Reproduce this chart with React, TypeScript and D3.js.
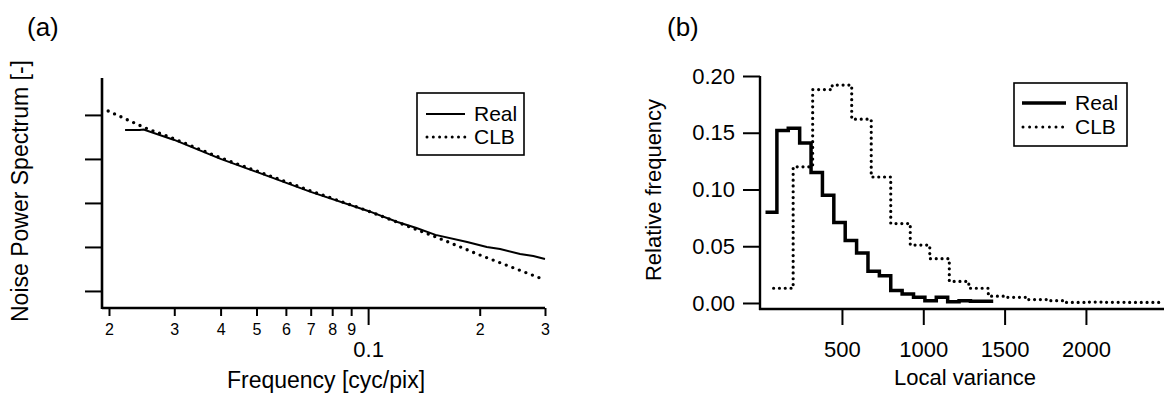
import React, { useRef, useEffect } from 'react';
import * as d3 from 'd3';

// (a) noise power spectrum, log-log
const realFreq = [0.0221, 0.0242, 0.0248, 0.03, 0.04, 0.05, 0.07, 0.1, 0.12, 0.135, 0.152, 0.185, 0.209, 0.227, 0.257, 0.279, 0.3];
const realNps = [0.0456, 0.0456, 0.0468, 0.027, 0.0100, 0.00507, 0.00178, 0.000658, 0.00037, 0.00027, 0.000188, 0.00013, 0.0001, 9.0e-5, 6.9e-5, 6.2e-5, 5.3e-5];
const clbFreq = [0.0199, 0.025, 0.03, 0.04, 0.05, 0.07, 0.1, 0.15, 0.2, 0.3];
const clbNps = [0.123, 0.051, 0.0285, 0.01055, 0.00533, 0.001875, 0.000658, 0.000178, 6.58e-5, 1.78e-5];
const freqMinorTicks = [0.02, 0.03, 0.04, 0.05, 0.06, 0.07, 0.08, 0.09, 0.2, 0.3];
const freqMinorLabels = ['2', '3', '4', '5', '6', '7', '8', '9', '2', '3'];
const freqMajorTicks = [0.1];
const npsTicks = [1e-5, 1e-4, 1e-3, 1e-2, 1e-1];

// (b) local variance histograms (bin edges + relative frequency)
const realEdges = [30, 100, 170, 240, 310, 380, 450, 520, 590, 660, 730, 800, 870, 940, 1010, 1080, 1150, 1220, 1290, 1360, 1430];
const realHist = [0.080, 0.152, 0.154, 0.141, 0.115, 0.095, 0.071, 0.055, 0.044, 0.028, 0.024, 0.011, 0.008, 0.005, 0.002, 0.005, 0.001, 0.002, 0.0015, 0.0015];
const clbEdges = [80, 200, 320, 440, 560, 680, 800, 920, 1040, 1160, 1280, 1400, 1520, 1640, 1760, 1880, 2000, 2120, 2240, 2360, 2480];
const clbHist = [0.013, 0.120, 0.188, 0.192, 0.162, 0.111, 0.070, 0.051, 0.039, 0.019, 0.013, 0.006, 0.005, 0.003, 0.002, 0.0005, 0.0008, 0.0006, 0.0005, 0.0005];
const varTicks = [500, 1000, 1500, 2000];
const relTicks = [0, 0.05, 0.1, 0.15, 0.2];

const FONT = '"Liberation Sans", Arial, Helvetica, sans-serif';

export default function App() {
  const ref = useRef<SVGSVGElement>(null);

  useEffect(() => {
    document.body.style.margin = '0';
    const svg = d3.select(ref.current);
    svg.selectAll('*').remove();
    svg.style('font-family', FONT);

    // ---------- panel (a) ----------
    const xA = d3.scaleLog().domain([0.01915, 0.3]).range([102, 545]);
    const yA = d3.scaleLog().domain([4.1e-6, 0.69]).range([308, 78]);

    svg.append('text').attr('x', 27).attr('y', 36).attr('font-size', 26).text('(a)');

    const minorAx = svg.append('g').attr('transform', 'translate(0,308)')
      .call(d3.axisBottom(xA).tickValues(freqMinorTicks).tickSize(8).tickPadding(8)
        .tickFormat((_, i) => freqMinorLabels[i]));
    minorAx.select('.domain').remove();
    minorAx.selectAll('line').attr('stroke-width', 2);
    minorAx.selectAll('text').attr('font-size', 16).attr('font-family', FONT);

    const majorAx = svg.append('g').attr('transform', 'translate(0,308)')
      .call(d3.axisBottom(xA).tickValues(freqMajorTicks).tickSize(17).tickPadding(16).tickFormat(() => '0.1'));
    majorAx.select('.domain').remove();
    majorAx.selectAll('line').attr('stroke-width', 2);
    majorAx.selectAll('text').attr('font-size', 22).attr('font-family', FONT);

    const yAx = svg.append('g').attr('transform', 'translate(102,0)')
      .call(d3.axisLeft(yA).tickValues(npsTicks).tickSize(17).tickFormat(() => ''));
    yAx.select('.domain').remove();
    yAx.selectAll('line').attr('stroke-width', 2);

    svg.append('line').attr('x1', 102).attr('x2', xA(0.3)).attr('y1', 308).attr('y2', 308)
      .attr('stroke', '#000').attr('stroke-width', 2.6);
    svg.append('line').attr('x1', 102).attr('x2', 102).attr('y1', 78).attr('y2', 309)
      .attr('stroke', '#000').attr('stroke-width', 2.6);

    svg.append('text').attr('x', 326).attr('y', 388).attr('text-anchor', 'middle')
      .attr('font-size', 23).text('Frequency [cyc/pix]');
    svg.append('text').attr('transform', 'translate(20,191) rotate(-90)').attr('dy', '0.35em')
      .attr('text-anchor', 'middle').attr('font-size', 23).text('Noise Power Spectrum [-]');

    const realPts = realFreq.map((f, i) => [xA(f), yA(realNps[i])] as [number, number]);
    const clbPts = clbFreq.map((f, i) => [xA(f), yA(clbNps[i])] as [number, number]);
    svg.append('path').attr('d', d3.line()(clbPts)).attr('fill', 'none').attr('stroke', '#000')
      .attr('stroke-width', 3.4).attr('stroke-linecap', 'round').attr('stroke-dasharray', '0 7');
    svg.append('path').attr('d', d3.line()(realPts)).attr('fill', 'none').attr('stroke', '#000')
      .attr('stroke-width', 2);

    // legend (a)
    const legA = svg.append('g');
    legA.append('rect').attr('x', 417).attr('y', 93).attr('width', 107).attr('height', 62)
      .attr('fill', '#fff').attr('stroke', '#000').attr('stroke-width', 1.6);
    legA.append('line').attr('x1', 426).attr('x2', 465).attr('y1', 114).attr('y2', 114)
      .attr('stroke', '#000').attr('stroke-width', 2);
    legA.append('line').attr('x1', 427).attr('x2', 465).attr('y1', 137).attr('y2', 137)
      .attr('stroke', '#000').attr('stroke-width', 3).attr('stroke-linecap', 'round').attr('stroke-dasharray', '0 6.3');
    legA.append('text').attr('x', 474).attr('y', 114).attr('dy', '0.35em').attr('font-size', 21).text('Real');
    legA.append('text').attr('x', 474).attr('y', 137).attr('dy', '0.35em').attr('font-size', 21).text('CLB');

    // ---------- panel (b) ----------
    const xB = d3.scaleLinear().domain([-10, 2480]).range([759, 1164]);
    const yB = d3.scaleLinear().domain([-0.0053, 0.2]).range([309, 76]);

    svg.append('text').attr('x', 667).attr('y', 36).attr('font-size', 26).text('(b)');

    const xBx = svg.append('g').attr('transform', 'translate(0,309)')
      .call(d3.axisBottom(xB).tickValues(varTicks).tickSize(16).tickPadding(16).tickFormat(d3.format('d')));
    xBx.select('.domain').remove();
    xBx.selectAll('line').attr('stroke-width', 2);
    xBx.selectAll('text').attr('font-size', 22).attr('font-family', FONT);

    const yBx = svg.append('g').attr('transform', 'translate(760,0)')
      .call(d3.axisLeft(yB).tickValues(relTicks).tickSize(17).tickPadding(8).tickFormat(d3.format('.2f')));
    yBx.select('.domain').remove();
    yBx.selectAll('line').attr('stroke-width', 2);
    yBx.selectAll('text').attr('font-size', 22).attr('font-family', FONT);

    svg.append('line').attr('x1', 759).attr('x2', 1164).attr('y1', 309).attr('y2', 309)
      .attr('stroke', '#000').attr('stroke-width', 2.6);
    svg.append('line').attr('x1', 760).attr('x2', 760).attr('y1', 76).attr('y2', 310)
      .attr('stroke', '#000').attr('stroke-width', 2.4);

    svg.append('text').attr('x', 965).attr('y', 385).attr('text-anchor', 'middle')
      .attr('font-size', 22).text('Local variance');
    svg.append('text').attr('transform', 'translate(653,190) rotate(-90)').attr('dy', '0.35em')
      .attr('text-anchor', 'middle').attr('font-size', 22).text('Relative frequency');

    const step = d3.line().curve(d3.curveStepAfter);
    const histPts = (edges: number[], vals: number[]) =>
      edges.map((e, i) => [xB(e), yB(vals[Math.min(i, vals.length - 1)])] as [number, number]);

    svg.append('path').attr('d', step(histPts(clbEdges, clbHist))).attr('fill', 'none').attr('stroke', '#000')
      .attr('stroke-width', 3.2).attr('stroke-linecap', 'round').attr('stroke-dasharray', '0 5.8');
    svg.append('path').attr('d', step(histPts(realEdges, realHist))).attr('fill', 'none').attr('stroke', '#000')
      .attr('stroke-width', 3.5);

    // legend (b)
    const legB = svg.append('g');
    legB.append('rect').attr('x', 1014).attr('y', 83).attr('width', 113).attr('height', 63)
      .attr('fill', '#fff').attr('stroke', '#000').attr('stroke-width', 1.6);
    legB.append('line').attr('x1', 1022).attr('x2', 1066).attr('y1', 103).attr('y2', 103)
      .attr('stroke', '#000').attr('stroke-width', 3.5);
    legB.append('line').attr('x1', 1023).attr('x2', 1065).attr('y1', 127).attr('y2', 127)
      .attr('stroke', '#000').attr('stroke-width', 3).attr('stroke-linecap', 'round').attr('stroke-dasharray', '0 6.6');
    legB.append('text').attr('x', 1075).attr('y', 103).attr('dy', '0.35em').attr('font-size', 21).text('Real');
    legB.append('text').attr('x', 1075).attr('y', 127).attr('dy', '0.35em').attr('font-size', 21).text('CLB');
  }, []);

  return (
    <svg ref={ref} width={1167} height={397} style={{ display: 'block', background: '#fff' }} />
  );
}
